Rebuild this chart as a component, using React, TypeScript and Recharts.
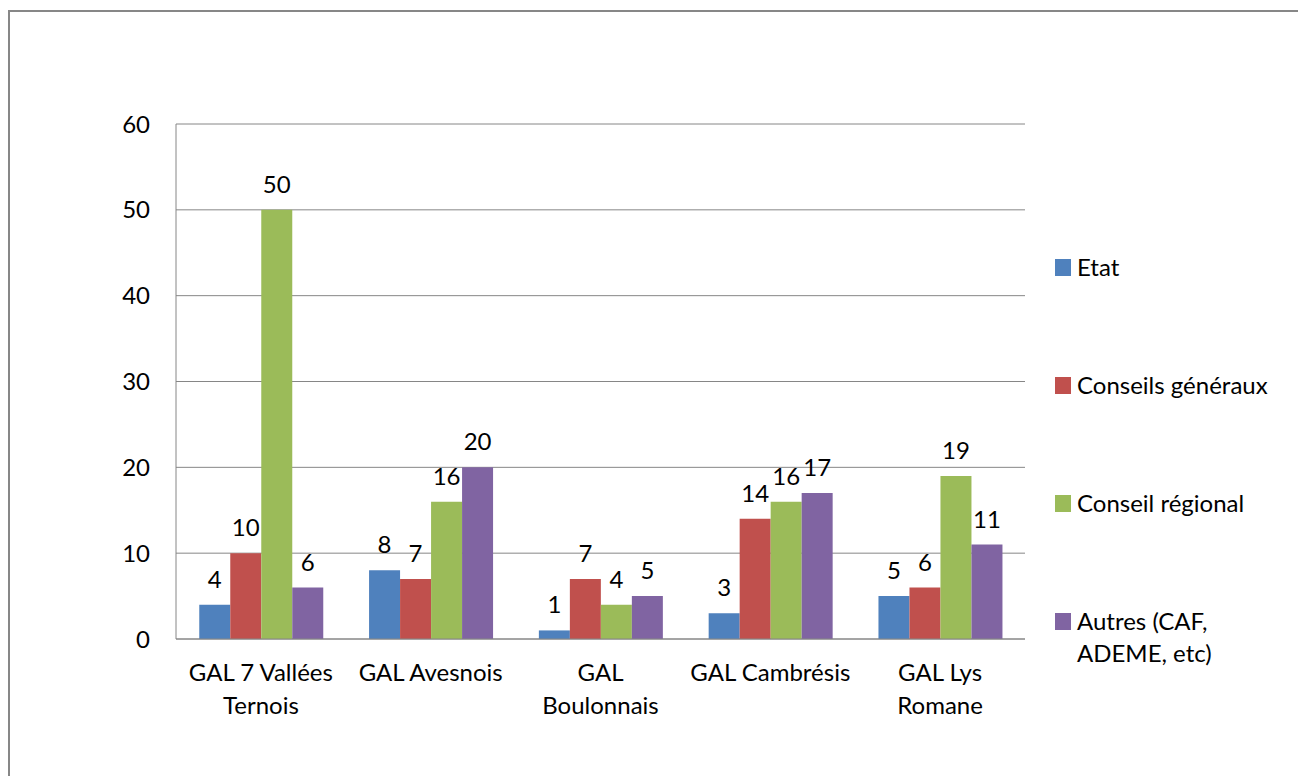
import React from "react";
import { Bar, BarChart, CartesianGrid, LabelList, Legend, XAxis, YAxis } from "recharts";

const CATEGORIES = [
  "GAL 7 Vallées\nTernois",
  "GAL Avesnois",
  "GAL\nBoulonnais",
  "GAL Cambrésis",
  "GAL Lys\nRomane",
];
const ETAT = [4, 8, 1, 3, 5];
const CONSEILS_GENERAUX = [10, 7, 7, 14, 6];
const CONSEIL_REGIONAL = [50, 16, 4, 16, 19];
const AUTRES = [6, 20, 5, 17, 11];
const Y_TICKS = [0, 10, 20, 30, 40, 50, 60];

const SERIES = [
  { key: "etat", name: "Etat", color: "#4F81BD", values: ETAT },
  { key: "cg", name: "Conseils généraux", color: "#C0504D", values: CONSEILS_GENERAUX },
  { key: "cr", name: "Conseil régional", color: "#9BBB59", values: CONSEIL_REGIONAL },
  { key: "autres", name: "Autres (CAF,\nADEME, etc)", color: "#8064A2", values: AUTRES },
];

const FONT = "Lato, 'Noto Sans', sans-serif";
const FONT_SIZE = 24;
const GRID = "#868686";

const data = CATEGORIES.map((name, i) => {
  const row: Record<string, string | number> = { name };
  SERIES.forEach((s) => {
    row[s.key] = s.values[i];
  });
  return row;
});

function CategoryTick({ x, y, payload }: any) {
  const lines = String(payload.value).split("\n");
  return (
    <text x={x} y={y} textAnchor="middle" fill="#000" fontSize={FONT_SIZE} fontFamily={FONT}>
      {lines.map((line, i) => (
        <tspan key={i} x={x} dy={i === 0 ? 42 : 33}>
          {line}
        </tspan>
      ))}
    </text>
  );
}

function SideLegend() {
  return (
    <div style={{ fontFamily: FONT, fontSize: FONT_SIZE, color: "#000" }}>
      {SERIES.map((s) => (
        <div key={s.key} style={{ display: "flex", alignItems: "flex-start", height: 118 }}>
          <span
            style={{
              width: 16,
              height: 17,
              marginTop: 8,
              marginRight: 6,
              background: s.color,
              flex: "none",
            }}
          />
          <span style={{ lineHeight: "32px", whiteSpace: "pre" }}>{s.name}</span>
        </div>
      ))}
    </div>
  );
}

export default function App() {
  return (
    <div style={{ position: "fixed", inset: 0, overflow: "hidden", background: "#fff" }}>
      <div
        style={{
          position: "absolute",
          left: 8,
          top: 10,
          width: 1400,
          height: 900,
          border: "2px solid #878787",
        }}
      />
      <div style={{ position: "absolute", left: 0, top: 0 }}>
        <BarChart
          width={1298}
          height={776}
          data={data}
          margin={{ top: 124, right: 273, bottom: 0, left: 0 }}
          barCategoryGap="13.7%"
          barGap={0}
        >
          <CartesianGrid vertical={false} stroke={GRID} />
          <XAxis
            dataKey="name"
            interval={0}
            tickLine={false}
            tickSize={0}
            tickMargin={0}
            axisLine={{ stroke: GRID }}
            tick={<CategoryTick />}
            height={137}
          />
          <YAxis
            width={176}
            domain={[0, 60]}
            ticks={Y_TICKS}
            tickLine={false}
            tickSize={0}
            tickMargin={26}
            axisLine={{ stroke: GRID }}
            tick={{ fill: "#000", fontSize: FONT_SIZE, fontFamily: FONT }}
          />
          <Legend
            layout="vertical"
            align="center"
            verticalAlign="middle"
            content={<SideLegend />}
            wrapperStyle={{ left: 1055, top: 251, width: 240 }}
          />
          {SERIES.map((s) => (
            <Bar key={s.key} dataKey={s.key} name={s.name} fill={s.color} isAnimationActive={false}>
              <LabelList
                dataKey={s.key}
                position="top"
                offset={17}
                fill="#000"
                fontSize={FONT_SIZE}
                fontFamily={FONT}
              />
            </Bar>
          ))}
        </BarChart>
      </div>
    </div>
  );
}
